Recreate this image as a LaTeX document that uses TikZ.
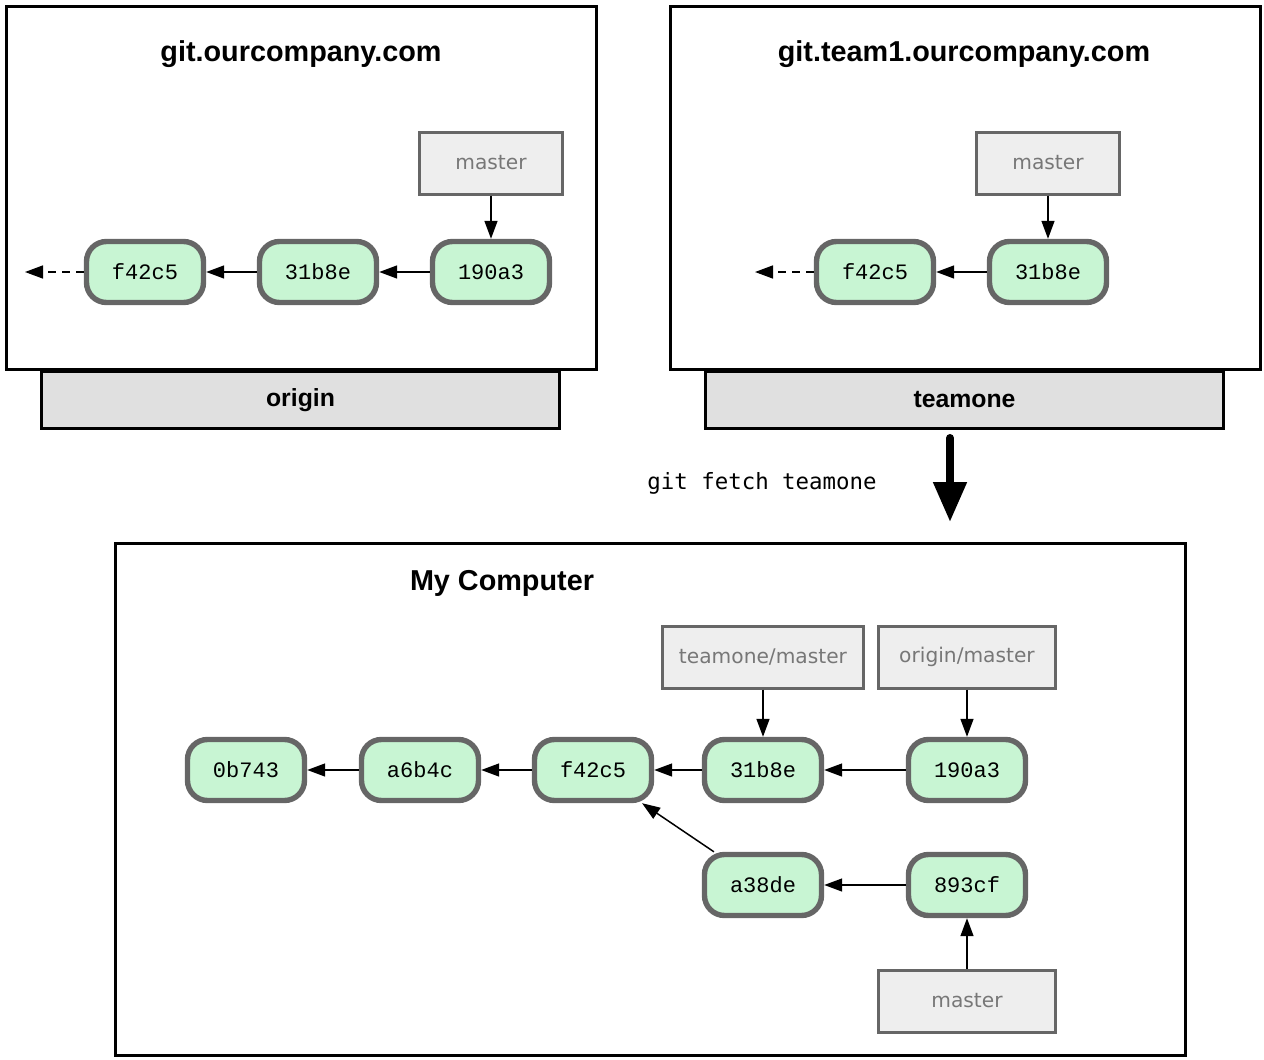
\documentclass[tikz,border=0pt]{standalone}
\usepackage{fontspec}
\setmainfont{Liberation Sans}
\newfontfamily\hashfont{Liberation Mono}
\newfontfamily\reffont{DejaVu Sans}
\newfontfamily\cmdfont{DejaVu Sans Mono}
\usepackage{tikz}
\usetikzlibrary{arrows.meta}
\definecolor{commitfill}{HTML}{C8F5D3}
\definecolor{commitline}{HTML}{666666}
\definecolor{reffill}{HTML}{EEEEEE}
\definecolor{reftext}{HTML}{777777}
\definecolor{serverfill}{HTML}{E0E0E0}

\begin{document}
\begin{tikzpicture}[x=0.5pt,y=-0.5pt,
  commit/.style={draw=commitline, fill=commitfill, line width=2.7pt,
    rounded corners=10pt, minimum width=58.5pt, minimum height=30.5pt,
    font=\hashfont\fontsize{11}{13}\selectfont},
  ref/.style={draw=commitline, fill=reffill, line width=1.5pt,
    minimum width=71.5pt, minimum height=31pt, inner xsep=8pt,
    text=reftext, font=\reffont\fontsize{10.1}{12}\selectfont},
  host/.style={draw, line width=1.5pt},
  server/.style={draw, fill=serverfill, line width=1.5pt,
    minimum width=259pt, minimum height=28.5pt,
    font=\bfseries\fontsize{12.4}{14}\selectfont},
  title/.style={font=\bfseries\fontsize{14.4}{17}\selectfont},
  link/.style={-{Triangle[length=9pt,width=6.5pt]}, line width=0.75pt},
  history/.style={link, dash pattern=on 4pt off 3pt}]
  \useasboundingbox (0,0) rectangle (1264,1060);
  % origin server
  \draw[host] (6,6) rectangle (596,369);
  \node[server] (srvorigin) at (300.5,400) {origin};
  \node[title] (origtitle) at (301,54) {git.ourcompany.com};
  \node[commit] (of42c5) at (145,272) {f42c5};
  \node[commit] (o31b8e) at (318,272) {31b8e};
  \node[commit] (o190a3) at (491,272) {190a3};
  \node[ref] (omaster) at (491,163) {master};
  \coordinate (oend) at (25,272);
  \draw[history] (of42c5) -- (oend);
  \draw[link] (o31b8e) -- (of42c5);
  \draw[link] (o190a3) -- (o31b8e);
  \draw[link] (omaster) -- (o190a3);
  % teamone server
  \draw[host] (670,6) rectangle (1260,369);
  \node[server] (srvteam) at (964.5,400) {teamone};
  \node[title] (teamtitle) at (964,54) {git.team1.ourcompany.com};
  \node[commit] (tf42c5) at (875,272) {f42c5};
  \node[commit] (t31b8e) at (1048,272) {31b8e};
  \node[ref] (tmaster) at (1048,163) {master};
  \coordinate (tend) at (755,272);
  \draw[history] (tf42c5) -- (tend);
  \draw[link] (t31b8e) -- (tf42c5);
  \draw[link] (tmaster) -- (t31b8e);
  % fetch
  \node[font=\cmdfont\fontsize{11.2}{13}\selectfont] (fetchcmd) at (762,483) {git fetch teamone};
  \coordinate (fetchtop) at (950,438);
  \coordinate (fetchend) at (950,522);
  \draw[line width=4pt, line cap=round, -{Triangle[length=20pt,width=16pt]}] (fetchtop) -- (fetchend);
  % local repository
  \draw[host] (115,543) rectangle (1185,1055);
  \node[title] (localtitle) at (502,583) {My Computer};
  \node[commit] (l0b743) at (246,770) {0b743};
  \node[commit] (la6b4c) at (420,770) {a6b4c};
  \node[commit] (lf42c5) at (593,770) {f42c5};
  \node[commit] (l31b8e) at (763,770) {31b8e};
  \node[commit] (l190a3) at (967,770) {190a3};
  \node[commit] (la38de) at (763,885) {a38de};
  \node[commit] (l893cf) at (967,885) {893cf};
  \node[ref, minimum width=100pt] (lteam) at (763,657) {teamone/master};
  \node[ref, minimum width=88.5pt] (lorigin) at (967,657) {origin/master};
  \node[ref, minimum width=88.5pt] (lmaster) at (967,1001) {master};
  \draw[link] (la6b4c) -- (l0b743);
  \draw[link] (lf42c5) -- (la6b4c);
  \draw[link] (l31b8e) -- (lf42c5);
  \draw[link] (l190a3) -- (l31b8e);
  \draw[link] (la38de) -- (lf42c5);
  \draw[link] (l893cf) -- (la38de);
  \draw[link] (lteam) -- (l31b8e);
  \draw[link] (lorigin) -- (l190a3);
  \draw[link] (lmaster) -- (l893cf);
\end{tikzpicture}
\end{document}
